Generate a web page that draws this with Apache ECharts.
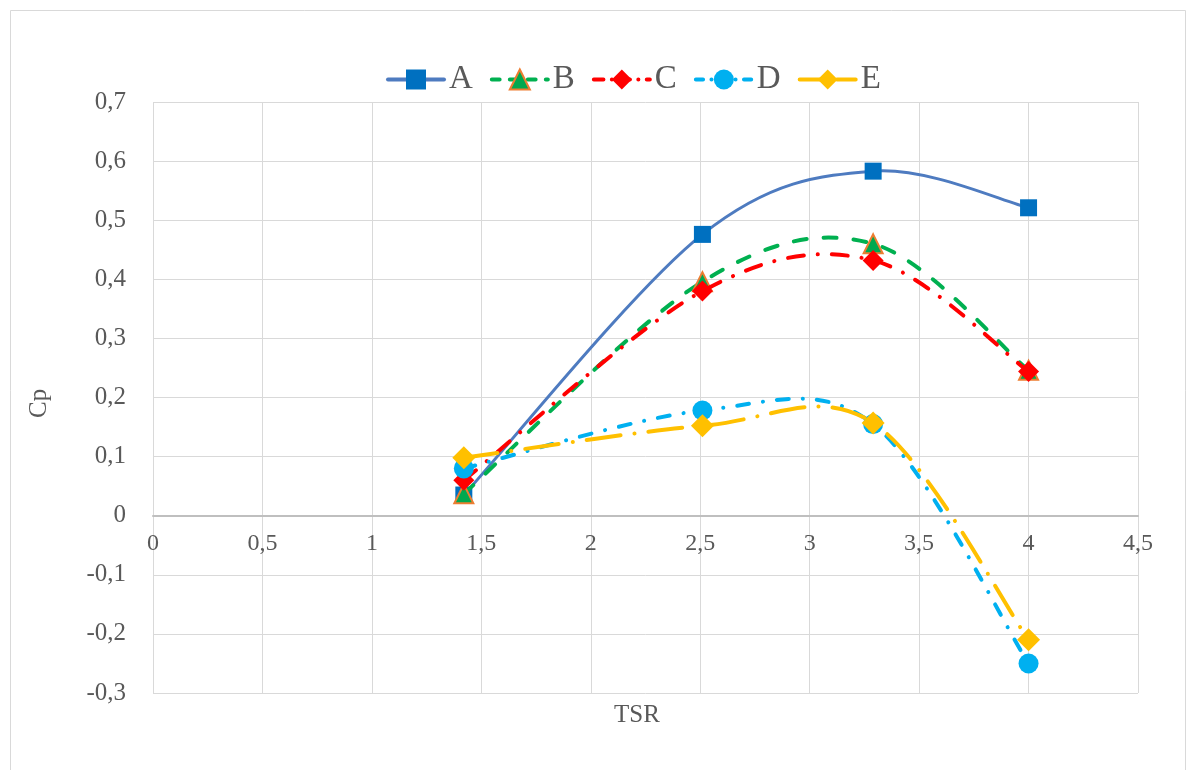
<!DOCTYPE html>
<html><head><meta charset="utf-8">
<script src="https://cdn.jsdelivr.net/npm/echarts@6/dist/echarts.min.js"></script>
<style>html,body{margin:0;padding:0;background:#fff}#c{width:1194px;height:770px}</style>
</head><body><div id="c"></div>
<script>
const tsr = [1.42, 2.51, 3.29, 4.0];
const seriesNames = ['A', 'B', 'C', 'D', 'E'];
const cpA = [0.035, 0.476, 0.583, 0.521];
const cpB = [0.037, 0.396, 0.460, 0.246];
const cpC = [0.060, 0.380, 0.432, 0.244];
const cpD = [0.080, 0.178, 0.155, -0.250];
const cpE = [0.098, 0.152, 0.157, -0.210];
const xTicks = [0, 0.5, 1, 1.5, 2, 2.5, 3, 3.5, 4, 4.5];
const yTicks = [-0.3, -0.2, -0.1, 0, 0.1, 0.2, 0.3, 0.4, 0.5, 0.6, 0.7];

const font = 'Liberation Serif';
const fmt = v => String(Math.round(v * 10) / 10).replace('.', ',');
const pair = arr => tsr.map((x, i) => [x, arr[i]]);

const styles = [
  {color:'#0070C0', line:'#4E7BC0', width:3, dash:null, symbol:'rect', size:17, border:null},
  {color:'#00A84F', line:'#00B050', width:4, dash:[13,17], symbol:'triangle', size:19, border:'#ED7D31'},
  {color:'#FF0000', line:'#FF0000', width:4, dash:[16,14,0.1,14], symbol:'diamond', size:21, border:null},
  {color:'#00B0F0', line:'#00B0F0', width:4, dash:[12,14,0.1,14], symbol:'circle', size:20, border:null},
  {color:'#FFC000', line:'#FFC000', width:4, dash:[34,14,0.1,14], symbol:'diamond', size:23, border:null}
];
const datas = [cpA, cpB, cpC, cpD, cpE];

// Excel-like smoothed path through pixel points (Bezier, tangent/6)
function smoothPath(pts) {
  const n = pts.length;
  let d = 'M' + pts[0][0] + ' ' + pts[0][1];
  for (let i = 0; i < n - 1; i++) {
    const p0 = pts[Math.max(i - 1, 0)], p1 = pts[i], p2 = pts[i + 1], p3 = pts[Math.min(i + 2, n - 1)];
    const c1 = [p1[0] + (p2[0] - p0[0]) / 6, p1[1] + (p2[1] - p0[1]) / 6];
    const c2 = [p2[0] - (p3[0] - p1[0]) / 6, p2[1] - (p3[1] - p1[1]) / 6];
    d += ' C' + c1[0] + ' ' + c1[1] + ' ' + c2[0] + ' ' + c2[1] + ' ' + p2[0] + ' ' + p2[1];
  }
  return d;
}

const series = [];
seriesNames.forEach((n, i) => {
  const s = styles[i];
  const arr = datas[i];
  series.push({
    type: 'custom', name: n + '_curve', data: pair(arr), z: 2 + 2 * i, silent: true,
    renderItem: (params, api) => {
      if (params.dataIndex !== 0) return null;
      const pts = tsr.map((x, k) => api.coord([x, arr[k]]));
      return {
        type: 'path', shape: {pathData: smoothPath(pts)},
        style: {fill: 'none', stroke: s.line, lineWidth: s.width, lineDash: s.dash, lineCap: 'round'}
      };
    }
  });
  series.push({
    name: n, type: 'line', data: pair(arr), z: 3 + 2 * i,
    symbol: s.symbol, symbolSize: s.size, showAllSymbol: true,
    lineStyle: {opacity: 0, width: 0},
    itemStyle: {color: s.color, borderColor: s.border || s.color, borderWidth: s.border ? 2 : 0}
  });
});

const legendData = seriesNames.map((n, i) => ({
  name: n,
  lineStyle: {color: styles[i].line, width: 4, opacity: 1,
    type: styles[i].dash ? styles[i].dash.map(v => v * 0.6) : 'solid', cap: 'round'}
}));

const chart = echarts.init(document.getElementById('c'), null, {renderer: 'canvas'});
chart.setOption({
  animation: false,
  backgroundColor: '#fff',
  grid: {left: 153, right: 56, top: 102, bottom: 77, containLabel: false},
  legend: {
    top: 58, left: 381, itemWidth: 56, itemHeight: 25, itemGap: 17,
    textStyle: {fontFamily: font, fontSize: 33, color: '#595959'},
    data: legendData
  },
  xAxis: {
    type: 'value', min: 0, max: 4.5, interval: 0.5,
    position: 'bottom', offset: -177.3,
    axisLine: {onZero: false, lineStyle: {color: '#bfbfbf', width: 2}},
    axisTick: {show: false},
    axisLabel: {fontFamily: font, fontSize: 24, color: '#595959', formatter: fmt, margin: 16},
    splitLine: {show: true, lineStyle: {color: '#d9d9d9', width: 1}}
  },
  yAxis: {
    type: 'value', min: -0.3, max: 0.7, interval: 0.1,
    axisLine: {show: false}, axisTick: {show: false},
    axisLabel: {fontFamily: font, fontSize: 25, color: '#595959', formatter: fmt, margin: 27},
    splitLine: {show: true, lineStyle: {color: '#d9d9d9', width: 1}}
  },
  graphic: [
    {type: 'rect', shape: {x: 10.5, y: 10.5, width: 1175, height: 780}, style: {fill: 'none', stroke: '#d9d9d9', lineWidth: 1}, silent: true},
    {type: 'text', left: 614, top: 703, style: {text: 'TSR', font: '25px "Liberation Serif"', fill: '#595959'}},
    {type: 'text', x: 27, y: 418, rotation: Math.PI / 2, style: {text: 'Cp', font: '25px "Liberation Serif"', fill: '#595959'}}
  ],
  series: series
});
</script></body></html>
